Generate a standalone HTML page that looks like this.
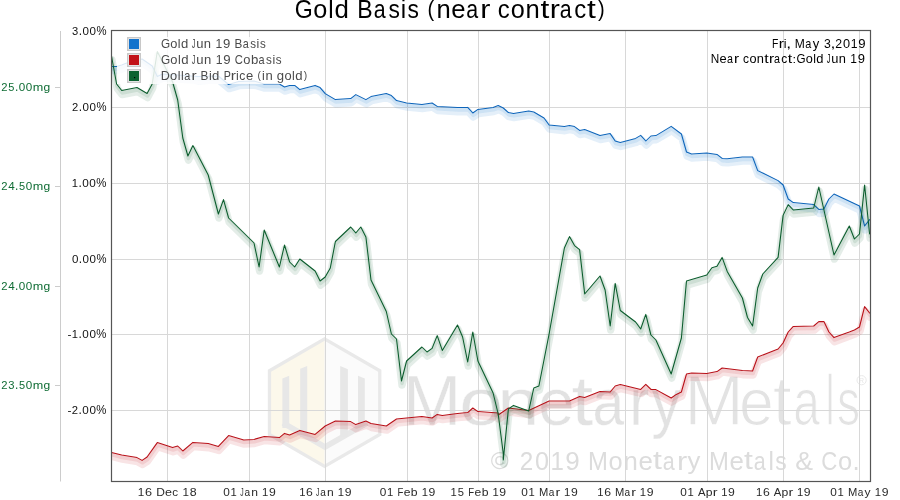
<!DOCTYPE html>
<html><head><meta charset="utf-8"><style>
html,body{margin:0;padding:0;background:#fff;width:900px;height:500px;overflow:hidden}
svg{display:block;will-change:transform}
text{font-family:"Liberation Sans", sans-serif}
</style></head><body>
<svg width="900" height="500" viewBox="0 0 900 500">

<polygon points="324.6,337.0 381.4,369.8 381.4,435.4 324.6,468.2 267.8,435.4 267.8,369.8" fill="#e9e9e9"/>
<polygon points="324.6,340.8 324.6,464.4 271.1,433.5 271.1,371.7" fill="#fcf8eb"/>
<polygon points="324.6,340.8 378.1,371.7 378.1,433.5 324.6,464.4" fill="#fbfbfb"/>
<polyline points="283,423 325,447 367,423" fill="none" stroke="#e8e8e8" stroke-width="5.5" stroke-linejoin="miter"/>
<polygon points="282.4,378.6 289.2,375.8 289.2,428 282.4,428" fill="#e7e7e7"/>
<polygon points="300.2,368.8 307.2,366.0 307.2,437 300.2,437" fill="#e7e7e7"/>
<polygon points="340.2,366.0 347.9,369.2 347.9,437 340.2,437" fill="#e7e7e7"/>
<polygon points="358.0,375.8 364.8,378.6 364.8,428 358.0,428" fill="#e7e7e7"/>
<g fill="#e2e2e2" stroke="#ffffff" stroke-width="0.4"><text transform="translate(402.74,425.00) scale(1.004,1.013)" font-size="70">M</text><text transform="translate(459.21,425.00) scale(1.119,0.942)" font-size="70">o</text><text transform="translate(497.17,425.00) scale(1.083,0.942)" font-size="70">n</text><text transform="translate(538.33,425.00) scale(0.932,0.942)" font-size="70">e</text><text transform="translate(571.61,425.00) scale(1.119,0.994)" font-size="70">t</text><text transform="translate(592.59,425.00) scale(0.812,0.942)" font-size="70">a</text><text transform="translate(629.32,425.00) scale(0.857,0.942)" font-size="70">r</text><text transform="translate(651.56,425.00) scale(0.845,0.960)" font-size="70">y</text></g>
<g fill="#e3e3e3" stroke="#ffffff" stroke-width="1.3"><text transform="translate(683.98,425.00) scale(1.031,1.013)" font-size="70">M</text><text transform="translate(739.04,425.00) scale(0.895,0.942)" font-size="70">e</text><text transform="translate(772.86,425.00) scale(0.979,0.994)" font-size="70">t</text><text transform="translate(793.17,425.00) scale(0.684,0.942)" font-size="70">a</text><text transform="translate(825.44,425.00) scale(0.585,1.025)" font-size="70">l</text><text transform="translate(836.92,425.00) scale(0.659,0.945)" font-size="70">s</text></g>
<circle cx="861.6" cy="380.2" r="4.6" fill="none" stroke="#e6e6e6" stroke-width="0.9"/>
<text x="861.6" y="383" font-size="7" fill="#e6e6e6" text-anchor="middle">R</text>
<g fill="#dcdcdc" ><text transform="translate(490.63,469.41) scale(1.022,1.027)" font-size="24.00">©</text><text transform="translate(519.76,469.60) scale(1.013,1.063)" font-size="24.00">2</text><text transform="translate(535.04,469.69) scale(1.051,1.068)" font-size="24.00">0</text><text transform="translate(550.47,469.60) scale(1.004,1.060)" font-size="24.00">1</text><text transform="translate(565.18,469.69) scale(1.085,1.068)" font-size="24.00">9</text><text transform="translate(588.12,469.60) scale(0.994,1.060)" font-size="24.00">M</text><text transform="translate(608.62,469.69) scale(1.060,1.048)" font-size="24.00">o</text><text transform="translate(623.47,469.60) scale(1.075,1.041)" font-size="24.00">n</text><text transform="translate(638.39,469.69) scale(1.077,1.048)" font-size="24.00">e</text><text transform="translate(653.05,469.40) scale(1.332,1.073)" font-size="24.00">t</text><text transform="translate(662.80,469.69) scale(0.897,1.048)" font-size="24.00">a</text><text transform="translate(677.07,469.60) scale(1.277,1.041)" font-size="24.00">r</text><text transform="translate(687.42,469.48) scale(1.071,1.026)" font-size="24.00">y</text><text transform="translate(708.93,469.60) scale(0.994,1.060)" font-size="24.00">M</text><text transform="translate(729.41,469.69) scale(1.077,1.048)" font-size="24.00">e</text><text transform="translate(744.06,469.40) scale(1.332,1.073)" font-size="24.00">t</text><text transform="translate(753.81,469.69) scale(0.897,1.048)" font-size="24.00">a</text><text transform="translate(768.55,469.60) scale(1.019,1.049)" font-size="24.00">l</text><text transform="translate(775.25,469.69) scale(0.956,1.051)" font-size="24.00">s</text><text transform="translate(795.24,469.69) scale(1.110,1.078)" font-size="24.00">&amp;</text><text transform="translate(821.15,469.69) scale(0.925,1.068)" font-size="24.00">C</text><text transform="translate(837.89,469.69) scale(1.060,1.048)" font-size="24.00">o</text><text transform="translate(852.47,469.60) scale(1.079,1.160)" font-size="24.00">.</text></g>
<line x1="167.5" y1="30" x2="167.5" y2="481" stroke="#d8d8d8" stroke-width="1"/>
<line x1="249.5" y1="30" x2="249.5" y2="481" stroke="#d8d8d8" stroke-width="1"/>
<line x1="325.5" y1="30" x2="325.5" y2="481" stroke="#d8d8d8" stroke-width="1"/>
<line x1="407.5" y1="30" x2="407.5" y2="481" stroke="#d8d8d8" stroke-width="1"/>
<line x1="478.5" y1="30" x2="478.5" y2="481" stroke="#d8d8d8" stroke-width="1"/>
<line x1="549.5" y1="30" x2="549.5" y2="481" stroke="#d8d8d8" stroke-width="1"/>
<line x1="625.5" y1="30" x2="625.5" y2="481" stroke="#d8d8d8" stroke-width="1"/>
<line x1="707.5" y1="30" x2="707.5" y2="481" stroke="#d8d8d8" stroke-width="1"/>
<line x1="783.5" y1="30" x2="783.5" y2="481" stroke="#d8d8d8" stroke-width="1"/>
<line x1="859.5" y1="30" x2="859.5" y2="481" stroke="#d8d8d8" stroke-width="1"/>
<line x1="111" y1="107.5" x2="870" y2="107.5" stroke="#d8d8d8" stroke-width="1"/>
<line x1="111" y1="183.5" x2="870" y2="183.5" stroke="#d8d8d8" stroke-width="1"/>
<line x1="111" y1="259.5" x2="870" y2="259.5" stroke="#d8d8d8" stroke-width="1"/>
<line x1="111" y1="334.5" x2="870" y2="334.5" stroke="#d8d8d8" stroke-width="1"/>
<line x1="111" y1="410.5" x2="870" y2="410.5" stroke="#d8d8d8" stroke-width="1"/>
<defs><clipPath id="pc"><rect x="111" y="30" width="760" height="451"/></clipPath></defs>
<g clip-path="url(#pc)">
<polyline points="111.5,66.5 116.6,66.5 121.7,65.0 126.8,63.0 142.1,59.0 152.2,66.0 157.3,76.5 162.4,74.0 198.0,76.5 218.4,76.0 228.6,84.5 238.7,81.5 254.0,81.0 264.2,84.0 279.4,84.0 284.5,87.0 289.6,85.4 294.7,85.4 299.8,89.6 315.1,85.4 320.1,87.6 325.2,93.6 335.4,99.6 350.7,98.6 355.8,94.6 365.9,99.6 371.0,96.6 386.3,93.6 391.4,95.6 396.5,100.6 406.6,103.0 421.9,104.4 432.1,103.0 437.2,106.4 457.5,107.6 467.7,107.4 472.8,113.0 477.9,109.4 493.1,107.4 498.2,105.6 503.3,108.0 508.4,112.6 513.5,113.4 528.7,111.0 533.8,112.0 544.0,118.0 549.1,125.0 564.4,126.6 569.5,125.6 574.5,126.6 579.6,130.4 584.7,129.6 600.0,135.4 610.2,133.6 615.2,141.0 620.3,142.4 635.6,138.4 640.7,135.4 645.8,141.0 650.9,136.0 655.9,135.6 671.2,126.4 681.4,134.0 686.5,152.0 691.6,154.0 706.8,153.0 717.0,154.4 722.1,158.4 727.2,158.8 742.4,157.0 752.6,157.0 757.7,170.6 778.1,180.6 783.1,185.0 788.2,199.0 793.3,202.6 813.7,204.6 818.8,209.4 823.9,209.0 828.9,199.0 834.0,194.0 859.5,206.0 864.6,226.0 869.6,219.6" transform="translate(0.5,4.1)" fill="none" stroke="#1473cc" stroke-width="7.4" stroke-opacity="0.115" stroke-linejoin="round" stroke-linecap="round"/>
<polyline points="111.5,66.5 116.6,66.5 121.7,65.0 126.8,63.0 142.1,59.0 152.2,66.0 157.3,76.5 162.4,74.0 198.0,76.5 218.4,76.0 228.6,84.5 238.7,81.5 254.0,81.0 264.2,84.0 279.4,84.0 284.5,87.0 289.6,85.4 294.7,85.4 299.8,89.6 315.1,85.4 320.1,87.6 325.2,93.6 335.4,99.6 350.7,98.6 355.8,94.6 365.9,99.6 371.0,96.6 386.3,93.6 391.4,95.6 396.5,100.6 406.6,103.0 421.9,104.4 432.1,103.0 437.2,106.4 457.5,107.6 467.7,107.4 472.8,113.0 477.9,109.4 493.1,107.4 498.2,105.6 503.3,108.0 508.4,112.6 513.5,113.4 528.7,111.0 533.8,112.0 544.0,118.0 549.1,125.0 564.4,126.6 569.5,125.6 574.5,126.6 579.6,130.4 584.7,129.6 600.0,135.4 610.2,133.6 615.2,141.0 620.3,142.4 635.6,138.4 640.7,135.4 645.8,141.0 650.9,136.0 655.9,135.6 671.2,126.4 681.4,134.0 686.5,152.0 691.6,154.0 706.8,153.0 717.0,154.4 722.1,158.4 727.2,158.8 742.4,157.0 752.6,157.0 757.7,170.6 778.1,180.6 783.1,185.0 788.2,199.0 793.3,202.6 813.7,204.6 818.8,209.4 823.9,209.0 828.9,199.0 834.0,194.0 859.5,206.0 864.6,226.0 869.6,219.6" transform="translate(0.5,2.4)" fill="none" stroke="#1473cc" stroke-width="3.6" stroke-opacity="0.11" stroke-linejoin="round" stroke-linecap="round"/>
<polyline points="111.5,66.5 116.6,66.5 121.7,65.0 126.8,63.0 142.1,59.0 152.2,66.0 157.3,76.5 162.4,74.0 198.0,76.5 218.4,76.0 228.6,84.5 238.7,81.5 254.0,81.0 264.2,84.0 279.4,84.0 284.5,87.0 289.6,85.4 294.7,85.4 299.8,89.6 315.1,85.4 320.1,87.6 325.2,93.6 335.4,99.6 350.7,98.6 355.8,94.6 365.9,99.6 371.0,96.6 386.3,93.6 391.4,95.6 396.5,100.6 406.6,103.0 421.9,104.4 432.1,103.0 437.2,106.4 457.5,107.6 467.7,107.4 472.8,113.0 477.9,109.4 493.1,107.4 498.2,105.6 503.3,108.0 508.4,112.6 513.5,113.4 528.7,111.0 533.8,112.0 544.0,118.0 549.1,125.0 564.4,126.6 569.5,125.6 574.5,126.6 579.6,130.4 584.7,129.6 600.0,135.4 610.2,133.6 615.2,141.0 620.3,142.4 635.6,138.4 640.7,135.4 645.8,141.0 650.9,136.0 655.9,135.6 671.2,126.4 681.4,134.0 686.5,152.0 691.6,154.0 706.8,153.0 717.0,154.4 722.1,158.4 727.2,158.8 742.4,157.0 752.6,157.0 757.7,170.6 778.1,180.6 783.1,185.0 788.2,199.0 793.3,202.6 813.7,204.6 818.8,209.4 823.9,209.0 828.9,199.0 834.0,194.0 859.5,206.0 864.6,226.0 869.6,219.6" fill="none" stroke="#0c64ba" stroke-width="1.05" stroke-linejoin="round" stroke-linecap="round"/>
<polyline points="111.5,452.4 121.7,455.0 137.0,457.6 142.1,460.4 147.1,457.0 157.3,442.6 172.6,447.6 177.7,446.0 182.8,451.0 192.9,442.4 208.2,443.6 218.4,446.4 228.6,435.6 243.8,440.0 254.0,439.4 264.2,436.4 279.4,437.6 284.5,433.4 289.6,435.0 299.8,430.4 315.1,434.4 325.2,426.0 335.4,421.0 350.7,421.6 355.8,424.6 365.9,421.0 371.0,423.4 386.3,426.0 396.5,419.0 406.6,418.0 421.9,416.4 432.1,418.0 437.2,414.4 442.3,415.4 457.5,413.6 467.7,412.6 472.8,408.0 477.9,411.6 498.2,413.0 498.2,415.0 508.4,408.0 528.7,410.6 549.1,401.0 569.5,401.0 579.6,396.4 584.7,397.4 600.0,391.4 610.2,392.0 615.2,386.0 620.3,384.6 640.7,389.4 645.8,384.4 650.9,389.4 655.9,389.6 671.2,398.0 676.3,394.4 681.4,392.0 686.5,374.0 691.6,373.0 706.8,373.4 717.0,371.6 722.1,368.0 742.4,370.6 752.6,371.0 757.7,357.0 778.1,349.0 783.1,343.0 788.2,332.0 793.3,326.4 813.7,326.0 818.8,321.6 823.9,321.6 828.9,332.0 834.0,337.6 849.3,332.0 854.4,330.0 859.5,327.0 864.6,306.6 869.6,313.0" transform="translate(0.5,4.1)" fill="none" stroke="#c21218" stroke-width="7.4" stroke-opacity="0.115" stroke-linejoin="round" stroke-linecap="round"/>
<polyline points="111.5,452.4 121.7,455.0 137.0,457.6 142.1,460.4 147.1,457.0 157.3,442.6 172.6,447.6 177.7,446.0 182.8,451.0 192.9,442.4 208.2,443.6 218.4,446.4 228.6,435.6 243.8,440.0 254.0,439.4 264.2,436.4 279.4,437.6 284.5,433.4 289.6,435.0 299.8,430.4 315.1,434.4 325.2,426.0 335.4,421.0 350.7,421.6 355.8,424.6 365.9,421.0 371.0,423.4 386.3,426.0 396.5,419.0 406.6,418.0 421.9,416.4 432.1,418.0 437.2,414.4 442.3,415.4 457.5,413.6 467.7,412.6 472.8,408.0 477.9,411.6 498.2,413.0 498.2,415.0 508.4,408.0 528.7,410.6 549.1,401.0 569.5,401.0 579.6,396.4 584.7,397.4 600.0,391.4 610.2,392.0 615.2,386.0 620.3,384.6 640.7,389.4 645.8,384.4 650.9,389.4 655.9,389.6 671.2,398.0 676.3,394.4 681.4,392.0 686.5,374.0 691.6,373.0 706.8,373.4 717.0,371.6 722.1,368.0 742.4,370.6 752.6,371.0 757.7,357.0 778.1,349.0 783.1,343.0 788.2,332.0 793.3,326.4 813.7,326.0 818.8,321.6 823.9,321.6 828.9,332.0 834.0,337.6 849.3,332.0 854.4,330.0 859.5,327.0 864.6,306.6 869.6,313.0" transform="translate(0.5,2.4)" fill="none" stroke="#c21218" stroke-width="3.6" stroke-opacity="0.11" stroke-linejoin="round" stroke-linecap="round"/>
<polyline points="111.5,452.4 121.7,455.0 137.0,457.6 142.1,460.4 147.1,457.0 157.3,442.6 172.6,447.6 177.7,446.0 182.8,451.0 192.9,442.4 208.2,443.6 218.4,446.4 228.6,435.6 243.8,440.0 254.0,439.4 264.2,436.4 279.4,437.6 284.5,433.4 289.6,435.0 299.8,430.4 315.1,434.4 325.2,426.0 335.4,421.0 350.7,421.6 355.8,424.6 365.9,421.0 371.0,423.4 386.3,426.0 396.5,419.0 406.6,418.0 421.9,416.4 432.1,418.0 437.2,414.4 442.3,415.4 457.5,413.6 467.7,412.6 472.8,408.0 477.9,411.6 498.2,413.0 498.2,415.0 508.4,408.0 528.7,410.6 549.1,401.0 569.5,401.0 579.6,396.4 584.7,397.4 600.0,391.4 610.2,392.0 615.2,386.0 620.3,384.6 640.7,389.4 645.8,384.4 650.9,389.4 655.9,389.6 671.2,398.0 676.3,394.4 681.4,392.0 686.5,374.0 691.6,373.0 706.8,373.4 717.0,371.6 722.1,368.0 742.4,370.6 752.6,371.0 757.7,357.0 778.1,349.0 783.1,343.0 788.2,332.0 793.3,326.4 813.7,326.0 818.8,321.6 823.9,321.6 828.9,332.0 834.0,337.6 849.3,332.0 854.4,330.0 859.5,327.0 864.6,306.6 869.6,313.0" fill="none" stroke="#b80f17" stroke-width="1.05" stroke-linejoin="round" stroke-linecap="round"/>
<polyline points="111.5,56.0 116.6,84.0 121.7,90.5 137.0,87.5 147.1,93.5 152.2,84.0 157.3,51.5 172.6,82.0 177.7,100.0 182.8,138.0 187.9,156.0 192.9,145.6 208.2,175.0 218.4,214.0 223.5,199.6 228.6,218.0 254.0,243.0 259.1,267.0 264.2,230.0 279.4,267.0 284.5,245.0 289.6,262.0 294.7,267.0 299.8,259.0 315.1,271.0 320.1,281.0 325.2,277.0 330.3,268.0 335.4,241.5 350.7,227.0 355.8,233.0 360.8,227.0 365.9,237.0 371.0,280.0 386.3,311.5 391.4,334.0 396.5,339.0 401.5,381.0 406.6,361.0 421.9,347.0 427.0,352.0 432.1,348.4 437.2,335.6 442.3,350.4 457.5,325.0 462.6,337.0 467.7,362.0 472.8,332.0 477.9,361.0 493.1,393.0 498.2,414.0 503.3,453.8 503.3,460.0 508.4,409.0 513.5,405.4 528.7,411.0 533.8,388.0 538.9,386.0 549.1,334.0 564.4,248.0 569.5,236.6 574.5,245.6 579.6,249.6 584.7,294.0 600.0,276.0 605.1,290.0 610.2,326.0 615.2,283.4 620.3,310.5 635.6,322.0 640.7,329.0 645.8,314.4 650.9,335.0 655.9,340.0 671.2,374.0 681.4,338.0 686.5,281.0 706.8,275.0 711.9,267.7 717.0,266.3 722.1,257.4 727.2,271.4 742.4,298.0 747.5,317.5 752.6,326.0 757.7,288.0 762.8,274.0 778.1,257.4 783.1,215.4 788.2,204.6 793.3,210.0 813.7,208.0 818.8,187.0 834.0,255.0 849.3,226.0 854.4,239.0 859.5,234.0 864.6,185.0 869.6,234.0" transform="translate(0.5,4.1)" fill="none" stroke="#0e6332" stroke-width="7.4" stroke-opacity="0.115" stroke-linejoin="round" stroke-linecap="round"/>
<polyline points="111.5,56.0 116.6,84.0 121.7,90.5 137.0,87.5 147.1,93.5 152.2,84.0 157.3,51.5 172.6,82.0 177.7,100.0 182.8,138.0 187.9,156.0 192.9,145.6 208.2,175.0 218.4,214.0 223.5,199.6 228.6,218.0 254.0,243.0 259.1,267.0 264.2,230.0 279.4,267.0 284.5,245.0 289.6,262.0 294.7,267.0 299.8,259.0 315.1,271.0 320.1,281.0 325.2,277.0 330.3,268.0 335.4,241.5 350.7,227.0 355.8,233.0 360.8,227.0 365.9,237.0 371.0,280.0 386.3,311.5 391.4,334.0 396.5,339.0 401.5,381.0 406.6,361.0 421.9,347.0 427.0,352.0 432.1,348.4 437.2,335.6 442.3,350.4 457.5,325.0 462.6,337.0 467.7,362.0 472.8,332.0 477.9,361.0 493.1,393.0 498.2,414.0 503.3,453.8 503.3,460.0 508.4,409.0 513.5,405.4 528.7,411.0 533.8,388.0 538.9,386.0 549.1,334.0 564.4,248.0 569.5,236.6 574.5,245.6 579.6,249.6 584.7,294.0 600.0,276.0 605.1,290.0 610.2,326.0 615.2,283.4 620.3,310.5 635.6,322.0 640.7,329.0 645.8,314.4 650.9,335.0 655.9,340.0 671.2,374.0 681.4,338.0 686.5,281.0 706.8,275.0 711.9,267.7 717.0,266.3 722.1,257.4 727.2,271.4 742.4,298.0 747.5,317.5 752.6,326.0 757.7,288.0 762.8,274.0 778.1,257.4 783.1,215.4 788.2,204.6 793.3,210.0 813.7,208.0 818.8,187.0 834.0,255.0 849.3,226.0 854.4,239.0 859.5,234.0 864.6,185.0 869.6,234.0" transform="translate(0.5,2.4)" fill="none" stroke="#0e6332" stroke-width="3.6" stroke-opacity="0.11" stroke-linejoin="round" stroke-linecap="round"/>
<polyline points="111.5,56.0 116.6,84.0 121.7,90.5 137.0,87.5 147.1,93.5 152.2,84.0 157.3,51.5 172.6,82.0 177.7,100.0 182.8,138.0 187.9,156.0 192.9,145.6 208.2,175.0 218.4,214.0 223.5,199.6 228.6,218.0 254.0,243.0 259.1,267.0 264.2,230.0 279.4,267.0 284.5,245.0 289.6,262.0 294.7,267.0 299.8,259.0 315.1,271.0 320.1,281.0 325.2,277.0 330.3,268.0 335.4,241.5 350.7,227.0 355.8,233.0 360.8,227.0 365.9,237.0 371.0,280.0 386.3,311.5 391.4,334.0 396.5,339.0 401.5,381.0 406.6,361.0 421.9,347.0 427.0,352.0 432.1,348.4 437.2,335.6 442.3,350.4 457.5,325.0 462.6,337.0 467.7,362.0 472.8,332.0 477.9,361.0 493.1,393.0 498.2,414.0 503.3,453.8 503.3,460.0 508.4,409.0 513.5,405.4 528.7,411.0 533.8,388.0 538.9,386.0 549.1,334.0 564.4,248.0 569.5,236.6 574.5,245.6 579.6,249.6 584.7,294.0 600.0,276.0 605.1,290.0 610.2,326.0 615.2,283.4 620.3,310.5 635.6,322.0 640.7,329.0 645.8,314.4 650.9,335.0 655.9,340.0 671.2,374.0 681.4,338.0 686.5,281.0 706.8,275.0 711.9,267.7 717.0,266.3 722.1,257.4 727.2,271.4 742.4,298.0 747.5,317.5 752.6,326.0 757.7,288.0 762.8,274.0 778.1,257.4 783.1,215.4 788.2,204.6 793.3,210.0 813.7,208.0 818.8,187.0 834.0,255.0 849.3,226.0 854.4,239.0 859.5,234.0 864.6,185.0 869.6,234.0" fill="none" stroke="#0a5c2c" stroke-width="1.05" stroke-linejoin="round" stroke-linecap="round"/>
</g>
<rect x="117" y="37" width="200" height="47" fill="#ffffff" fill-opacity="0.85"/>
<rect x="127.75" y="37.75" width="12.5" height="12.5" fill="#fff" stroke="#c8c8c8" stroke-width="1.5"/>
<rect x="129" y="39" width="10" height="10" fill="#1473cc"/>
<g fill="#4a4a4a" ><text transform="translate(160.91,47.74) scale(0.981,1.068)" font-size="12.00">G</text><text transform="translate(170.30,47.75) scale(1.069,1.048)" font-size="12.00">o</text><text transform="translate(177.86,47.70) scale(1.028,1.049)" font-size="12.00">l</text><text transform="translate(181.02,47.75) scale(1.093,1.054)" font-size="12.00">d</text><text transform="translate(191.67,47.70) scale(0.609,1.060)" font-size="12.00">J</text><text transform="translate(196.14,47.74) scale(1.084,1.067)" font-size="12.00">u</text><text transform="translate(203.84,47.70) scale(1.084,1.041)" font-size="12.00">n</text><text transform="translate(215.50,47.70) scale(1.012,1.060)" font-size="12.00">1</text><text transform="translate(222.92,47.74) scale(1.095,1.068)" font-size="12.00">9</text><text transform="translate(234.51,47.70) scale(0.977,1.060)" font-size="12.00">B</text><text transform="translate(242.83,47.75) scale(0.904,1.048)" font-size="12.00">a</text><text transform="translate(250.29,47.75) scale(0.964,1.051)" font-size="12.00">s</text><text transform="translate(256.56,47.70) scale(1.028,1.049)" font-size="12.00">i</text><text transform="translate(259.93,47.75) scale(0.964,1.051)" font-size="12.00">s</text></g>
<rect x="127.75" y="53.75" width="12.5" height="12.5" fill="#fff" stroke="#c8c8c8" stroke-width="1.5"/>
<rect x="129" y="55" width="10" height="10" fill="#c21218"/>
<g fill="#4a4a4a" ><text transform="translate(160.90,63.64) scale(0.987,1.068)" font-size="12.00">G</text><text transform="translate(170.35,63.65) scale(1.075,1.048)" font-size="12.00">o</text><text transform="translate(177.96,63.60) scale(1.034,1.049)" font-size="12.00">l</text><text transform="translate(181.14,63.65) scale(1.099,1.054)" font-size="12.00">d</text><text transform="translate(191.85,63.60) scale(0.613,1.060)" font-size="12.00">J</text><text transform="translate(196.35,63.64) scale(1.091,1.067)" font-size="12.00">u</text><text transform="translate(204.10,63.60) scale(1.091,1.041)" font-size="12.00">n</text><text transform="translate(215.82,63.60) scale(1.019,1.060)" font-size="12.00">1</text><text transform="translate(223.29,63.64) scale(1.101,1.068)" font-size="12.00">9</text><text transform="translate(234.83,63.64) scale(0.939,1.068)" font-size="12.00">C</text><text transform="translate(243.33,63.65) scale(1.075,1.048)" font-size="12.00">o</text><text transform="translate(250.88,63.65) scale(1.101,1.054)" font-size="12.00">b</text><text transform="translate(258.60,63.65) scale(0.910,1.048)" font-size="12.00">a</text><text transform="translate(266.10,63.65) scale(0.970,1.051)" font-size="12.00">s</text><text transform="translate(272.41,63.60) scale(1.034,1.049)" font-size="12.00">i</text><text transform="translate(275.80,63.65) scale(0.970,1.051)" font-size="12.00">s</text></g>
<rect x="127.75" y="69.75" width="12.5" height="12.5" fill="#fff" stroke="#c8c8c8" stroke-width="1.5"/>
<rect x="129" y="71" width="10" height="10" fill="#0e6332"/>
<g fill="#4a4a4a" ><text transform="translate(160.77,79.60) scale(1.044,1.060)" font-size="12.00">D</text><text transform="translate(170.06,79.65) scale(1.072,1.048)" font-size="12.00">o</text><text transform="translate(177.64,79.60) scale(1.031,1.049)" font-size="12.00">l</text><text transform="translate(181.01,79.60) scale(1.031,1.049)" font-size="12.00">l</text><text transform="translate(184.33,79.65) scale(0.907,1.048)" font-size="12.00">a</text><text transform="translate(191.55,79.60) scale(1.292,1.041)" font-size="12.00">r</text><text transform="translate(200.53,79.60) scale(0.980,1.060)" font-size="12.00">B</text><text transform="translate(208.92,79.60) scale(1.031,1.049)" font-size="12.00">i</text><text transform="translate(212.08,79.65) scale(1.096,1.054)" font-size="12.00">d</text><text transform="translate(223.81,79.60) scale(0.892,1.060)" font-size="12.00">P</text><text transform="translate(230.87,79.60) scale(1.292,1.041)" font-size="12.00">r</text><text transform="translate(236.09,79.60) scale(1.031,1.049)" font-size="12.00">i</text><text transform="translate(239.29,79.65) scale(1.012,1.048)" font-size="12.00">c</text><text transform="translate(245.90,79.65) scale(1.089,1.048)" font-size="12.00">e</text><text transform="translate(257.49,78.81) scale(0.853,0.956)" font-size="12.00">(</text><text transform="translate(262.12,79.60) scale(1.031,1.049)" font-size="12.00">i</text><text transform="translate(265.40,79.60) scale(1.087,1.041)" font-size="12.00">n</text><text transform="translate(276.80,79.53) scale(1.096,1.032)" font-size="12.00">g</text><text transform="translate(284.50,79.65) scale(1.072,1.048)" font-size="12.00">o</text><text transform="translate(292.08,79.60) scale(1.031,1.049)" font-size="12.00">l</text><text transform="translate(295.25,79.65) scale(1.096,1.054)" font-size="12.00">d</text><text transform="translate(303.73,78.81) scale(0.853,0.956)" font-size="12.00">)</text></g>
<rect x="134" y="77" width="1.2" height="1.2" fill="#000"/>
<rect x="111.5" y="30.5" width="759" height="451" fill="none" stroke="#555555" stroke-width="1.2"/>
<line x1="60.5" y1="31" x2="60.5" y2="481.5" stroke="#cccccc" stroke-width="1"/>
<line x1="55" y1="87.5" x2="60" y2="87.5" stroke="#cccccc" stroke-width="1"/>
<line x1="55" y1="186.5" x2="60" y2="186.5" stroke="#cccccc" stroke-width="1"/>
<line x1="55" y1="286.5" x2="60" y2="286.5" stroke="#cccccc" stroke-width="1"/>
<line x1="55" y1="385.5" x2="60" y2="385.5" stroke="#cccccc" stroke-width="1"/>
<g fill="#0f6c34" ><text transform="translate(1.13,91.30) scale(1.023,1.063)" font-size="11.00">2</text><text transform="translate(8.35,91.34) scale(1.001,1.065)" font-size="11.00">5</text><text transform="translate(15.07,91.30) scale(1.089,1.160)" font-size="11.00">.</text><text transform="translate(18.77,91.34) scale(1.061,1.068)" font-size="11.00">0</text><text transform="translate(25.82,91.34) scale(1.061,1.068)" font-size="11.00">0</text><text transform="translate(32.76,91.30) scale(1.147,1.041)" font-size="11.00">m</text><text transform="translate(43.48,91.23) scale(1.094,1.032)" font-size="11.00">g</text></g>
<g fill="#0f6c34" ><text transform="translate(1.13,190.30) scale(1.023,1.063)" font-size="11.00">2</text><text transform="translate(8.21,190.30) scale(1.061,1.060)" font-size="11.00">4</text><text transform="translate(15.07,190.30) scale(1.089,1.160)" font-size="11.00">.</text><text transform="translate(18.91,190.34) scale(1.001,1.065)" font-size="11.00">5</text><text transform="translate(25.82,190.34) scale(1.061,1.068)" font-size="11.00">0</text><text transform="translate(32.76,190.30) scale(1.147,1.041)" font-size="11.00">m</text><text transform="translate(43.48,190.23) scale(1.094,1.032)" font-size="11.00">g</text></g>
<g fill="#0f6c34" ><text transform="translate(1.13,290.00) scale(1.023,1.063)" font-size="11.00">2</text><text transform="translate(8.21,290.00) scale(1.061,1.060)" font-size="11.00">4</text><text transform="translate(15.07,290.00) scale(1.089,1.160)" font-size="11.00">.</text><text transform="translate(18.77,290.04) scale(1.061,1.068)" font-size="11.00">0</text><text transform="translate(25.82,290.04) scale(1.061,1.068)" font-size="11.00">0</text><text transform="translate(32.76,290.00) scale(1.147,1.041)" font-size="11.00">m</text><text transform="translate(43.48,289.93) scale(1.094,1.032)" font-size="11.00">g</text></g>
<g fill="#0f6c34" ><text transform="translate(1.13,389.30) scale(1.023,1.063)" font-size="11.00">2</text><text transform="translate(8.35,389.34) scale(1.019,1.068)" font-size="11.00">3</text><text transform="translate(15.07,389.30) scale(1.089,1.160)" font-size="11.00">.</text><text transform="translate(18.91,389.34) scale(1.001,1.065)" font-size="11.00">5</text><text transform="translate(25.82,389.34) scale(1.061,1.068)" font-size="11.00">0</text><text transform="translate(32.76,389.30) scale(1.147,1.041)" font-size="11.00">m</text><text transform="translate(43.48,389.23) scale(1.094,1.032)" font-size="11.00">g</text></g>
<g fill="#111111" ><text transform="translate(72.07,35.04) scale(1.015,1.068)" font-size="11.00">3</text><text transform="translate(78.77,35.00) scale(1.085,1.160)" font-size="11.00">.</text><text transform="translate(82.46,35.04) scale(1.057,1.068)" font-size="11.00">0</text><text transform="translate(89.48,35.04) scale(1.057,1.068)" font-size="11.00">0</text><text transform="translate(96.43,35.09) scale(1.030,1.081)" font-size="11.00">%</text></g>
<g fill="#111111" ><text transform="translate(71.94,111.00) scale(1.018,1.063)" font-size="11.00">2</text><text transform="translate(78.80,111.00) scale(1.084,1.160)" font-size="11.00">.</text><text transform="translate(82.48,111.04) scale(1.056,1.068)" font-size="11.00">0</text><text transform="translate(89.49,111.04) scale(1.056,1.068)" font-size="11.00">0</text><text transform="translate(96.44,111.09) scale(1.029,1.081)" font-size="11.00">%</text></g>
<g fill="#111111" ><text transform="translate(71.64,187.00) scale(1.021,1.060)" font-size="11.00">1</text><text transform="translate(78.46,187.00) scale(1.097,1.160)" font-size="11.00">.</text><text transform="translate(82.19,187.04) scale(1.069,1.068)" font-size="11.00">0</text><text transform="translate(89.29,187.04) scale(1.069,1.068)" font-size="11.00">0</text><text transform="translate(96.32,187.09) scale(1.041,1.081)" font-size="11.00">%</text></g>
<g fill="#111111" ><text transform="translate(72.05,263.04) scale(1.054,1.068)" font-size="11.00">0</text><text transform="translate(78.86,263.00) scale(1.082,1.160)" font-size="11.00">.</text><text transform="translate(82.54,263.04) scale(1.054,1.068)" font-size="11.00">0</text><text transform="translate(89.53,263.04) scale(1.054,1.068)" font-size="11.00">0</text><text transform="translate(96.46,263.09) scale(1.026,1.081)" font-size="11.00">%</text></g>
<g fill="#111111" ><text transform="translate(67.47,337.98) scale(1.087,1.025)" font-size="11.00">-</text><text transform="translate(71.83,338.00) scale(1.016,1.060)" font-size="11.00">1</text><text transform="translate(78.61,338.00) scale(1.092,1.160)" font-size="11.00">.</text><text transform="translate(82.32,338.04) scale(1.063,1.068)" font-size="11.00">0</text><text transform="translate(89.38,338.04) scale(1.063,1.068)" font-size="11.00">0</text><text transform="translate(96.37,338.09) scale(1.036,1.081)" font-size="11.00">%</text></g>
<g fill="#111111" ><text transform="translate(67.47,413.98) scale(1.087,1.025)" font-size="11.00">-</text><text transform="translate(71.71,414.00) scale(1.025,1.063)" font-size="11.00">2</text><text transform="translate(78.61,414.00) scale(1.092,1.160)" font-size="11.00">.</text><text transform="translate(82.32,414.04) scale(1.063,1.068)" font-size="11.00">0</text><text transform="translate(89.38,414.04) scale(1.063,1.068)" font-size="11.00">0</text><text transform="translate(96.37,414.09) scale(1.036,1.081)" font-size="11.00">%</text></g>
<g fill="#2a2a2a" ><text transform="translate(137.86,495.90) scale(1.065,1.060)" font-size="11.00">1</text><text transform="translate(145.04,495.94) scale(1.154,1.068)" font-size="11.00">6</text><text transform="translate(156.13,495.90) scale(1.094,1.060)" font-size="11.00">D</text><text transform="translate(165.04,495.94) scale(1.143,1.048)" font-size="11.00">e</text><text transform="translate(172.24,495.94) scale(1.061,1.048)" font-size="11.00">c</text><text transform="translate(182.58,495.90) scale(1.065,1.060)" font-size="11.00">1</text><text transform="translate(189.84,495.94) scale(1.127,1.068)" font-size="11.00">8</text></g>
<g fill="#2a2a2a" ><text transform="translate(223.24,496.04) scale(1.076,1.068)" font-size="11.00">0</text><text transform="translate(230.48,496.00) scale(1.028,1.060)" font-size="11.00">1</text><text transform="translate(240.13,496.00) scale(0.619,1.060)" font-size="11.00">J</text><text transform="translate(244.38,496.04) scale(0.918,1.048)" font-size="11.00">a</text><text transform="translate(251.23,496.00) scale(1.101,1.041)" font-size="11.00">n</text><text transform="translate(262.07,496.00) scale(1.028,1.060)" font-size="11.00">1</text><text transform="translate(268.98,496.04) scale(1.112,1.068)" font-size="11.00">9</text></g>
<g fill="#2a2a2a" ><text transform="translate(299.16,496.00) scale(1.027,1.060)" font-size="11.00">1</text><text transform="translate(306.09,496.04) scale(1.113,1.068)" font-size="11.00">6</text><text transform="translate(315.94,496.00) scale(0.618,1.060)" font-size="11.00">J</text><text transform="translate(320.18,496.04) scale(0.917,1.048)" font-size="11.00">a</text><text transform="translate(327.03,496.00) scale(1.100,1.041)" font-size="11.00">n</text><text transform="translate(337.86,496.00) scale(1.027,1.060)" font-size="11.00">1</text><text transform="translate(344.77,496.04) scale(1.111,1.068)" font-size="11.00">9</text></g>
<g fill="#2a2a2a" ><text transform="translate(379.72,496.04) scale(1.075,1.068)" font-size="11.00">0</text><text transform="translate(386.95,496.00) scale(1.027,1.060)" font-size="11.00">1</text><text transform="translate(397.60,496.00) scale(0.874,1.060)" font-size="11.00">F</text><text transform="translate(403.84,496.04) scale(1.102,1.048)" font-size="11.00">e</text><text transform="translate(410.87,496.04) scale(1.110,1.054)" font-size="11.00">b</text><text transform="translate(421.70,496.00) scale(1.027,1.060)" font-size="11.00">1</text><text transform="translate(428.60,496.04) scale(1.111,1.068)" font-size="11.00">9</text></g>
<g fill="#2a2a2a" ><text transform="translate(450.57,496.00) scale(1.027,1.060)" font-size="11.00">1</text><text transform="translate(457.75,496.04) scale(1.015,1.065)" font-size="11.00">5</text><text transform="translate(468.35,496.00) scale(0.874,1.060)" font-size="11.00">F</text><text transform="translate(474.60,496.04) scale(1.102,1.048)" font-size="11.00">e</text><text transform="translate(481.63,496.04) scale(1.110,1.054)" font-size="11.00">b</text><text transform="translate(492.46,496.00) scale(1.027,1.060)" font-size="11.00">1</text><text transform="translate(499.36,496.04) scale(1.111,1.068)" font-size="11.00">9</text></g>
<g fill="#2a2a2a" ><text transform="translate(521.37,496.04) scale(1.075,1.068)" font-size="11.00">0</text><text transform="translate(528.61,496.00) scale(1.027,1.060)" font-size="11.00">1</text><text transform="translate(539.12,496.00) scale(1.017,1.060)" font-size="11.00">M</text><text transform="translate(548.87,496.04) scale(0.917,1.048)" font-size="11.00">a</text><text transform="translate(555.56,496.00) scale(1.307,1.041)" font-size="11.00">r</text><text transform="translate(564.05,496.00) scale(1.027,1.060)" font-size="11.00">1</text><text transform="translate(570.95,496.04) scale(1.111,1.068)" font-size="11.00">9</text></g>
<g fill="#2a2a2a" ><text transform="translate(597.22,496.00) scale(1.027,1.060)" font-size="11.00">1</text><text transform="translate(604.15,496.04) scale(1.113,1.068)" font-size="11.00">6</text><text transform="translate(614.88,496.00) scale(1.017,1.060)" font-size="11.00">M</text><text transform="translate(624.62,496.04) scale(0.917,1.048)" font-size="11.00">a</text><text transform="translate(631.31,496.00) scale(1.307,1.041)" font-size="11.00">r</text><text transform="translate(639.80,496.00) scale(1.027,1.060)" font-size="11.00">1</text><text transform="translate(646.70,496.04) scale(1.111,1.068)" font-size="11.00">9</text></g>
<g fill="#2a2a2a" ><text transform="translate(680.25,496.04) scale(1.075,1.068)" font-size="11.00">0</text><text transform="translate(687.49,496.00) scale(1.027,1.060)" font-size="11.00">1</text><text transform="translate(697.89,496.00) scale(1.028,1.060)" font-size="11.00">A</text><text transform="translate(705.73,495.94) scale(1.110,1.031)" font-size="11.00">p</text><text transform="translate(712.68,496.00) scale(1.307,1.041)" font-size="11.00">r</text><text transform="translate(721.17,496.00) scale(1.027,1.060)" font-size="11.00">1</text><text transform="translate(728.07,496.04) scale(1.111,1.068)" font-size="11.00">9</text></g>
<g fill="#2a2a2a" ><text transform="translate(756.10,496.00) scale(1.027,1.060)" font-size="11.00">1</text><text transform="translate(763.03,496.04) scale(1.113,1.068)" font-size="11.00">6</text><text transform="translate(773.64,496.00) scale(1.028,1.060)" font-size="11.00">A</text><text transform="translate(781.48,495.94) scale(1.110,1.031)" font-size="11.00">p</text><text transform="translate(788.43,496.00) scale(1.307,1.041)" font-size="11.00">r</text><text transform="translate(796.92,496.00) scale(1.027,1.060)" font-size="11.00">1</text><text transform="translate(803.82,496.04) scale(1.111,1.068)" font-size="11.00">9</text></g>
<g fill="#2a2a2a" ><text transform="translate(830.14,496.04) scale(1.076,1.068)" font-size="11.00">0</text><text transform="translate(837.38,496.00) scale(1.028,1.060)" font-size="11.00">1</text><text transform="translate(847.90,496.00) scale(1.018,1.060)" font-size="11.00">M</text><text transform="translate(857.65,496.04) scale(0.918,1.048)" font-size="11.00">a</text><text transform="translate(864.59,495.95) scale(1.096,1.026)" font-size="11.00">y</text><text transform="translate(874.87,496.00) scale(1.028,1.060)" font-size="11.00">1</text><text transform="translate(881.78,496.04) scale(1.111,1.068)" font-size="11.00">9</text></g>
<g fill="#000000" ><text transform="translate(294.83,17.84) scale(0.966,1.068)" font-size="24.00">G</text><text transform="translate(313.34,17.84) scale(1.053,1.048)" font-size="24.00">o</text><text transform="translate(328.23,17.75) scale(1.012,1.049)" font-size="24.00">l</text><text transform="translate(334.46,17.84) scale(1.076,1.054)" font-size="24.00">d</text><text transform="translate(357.32,17.75) scale(0.962,1.060)" font-size="24.00">B</text><text transform="translate(373.71,17.84) scale(0.891,1.048)" font-size="24.00">a</text><text transform="translate(388.41,17.84) scale(0.949,1.051)" font-size="24.00">s</text><text transform="translate(400.75,17.75) scale(1.012,1.049)" font-size="24.00">i</text><text transform="translate(407.40,17.84) scale(0.949,1.051)" font-size="24.00">s</text><text transform="translate(427.48,16.16) scale(0.837,0.956)" font-size="24.00">(</text><text transform="translate(436.41,17.75) scale(1.068,1.041)" font-size="24.00">n</text><text transform="translate(451.24,17.84) scale(1.070,1.048)" font-size="24.00">e</text><text transform="translate(466.17,17.84) scale(0.891,1.048)" font-size="24.00">a</text><text transform="translate(480.35,17.75) scale(1.269,1.041)" font-size="24.00">r</text><text transform="translate(497.84,17.84) scale(0.994,1.048)" font-size="24.00">c</text><text transform="translate(510.86,17.84) scale(1.053,1.048)" font-size="24.00">o</text><text transform="translate(525.61,17.75) scale(1.068,1.041)" font-size="24.00">n</text><text transform="translate(540.38,17.55) scale(1.324,1.073)" font-size="24.00">t</text><text transform="translate(549.68,17.75) scale(1.269,1.041)" font-size="24.00">r</text><text transform="translate(559.83,17.84) scale(0.891,1.048)" font-size="24.00">a</text><text transform="translate(574.18,17.84) scale(0.994,1.048)" font-size="24.00">c</text><text transform="translate(587.11,17.55) scale(1.324,1.073)" font-size="24.00">t</text><text transform="translate(598.05,16.16) scale(0.837,0.956)" font-size="24.00">)</text></g>
<g fill="#000000" ><text transform="translate(771.95,48.00) scale(0.865,1.060)" font-size="12.00">F</text><text transform="translate(778.64,48.00) scale(1.293,1.041)" font-size="12.00">r</text><text transform="translate(783.87,48.00) scale(1.031,1.049)" font-size="12.00">i</text><text transform="translate(786.26,47.82) scale(1.471,1.023)" font-size="12.00">,</text><text transform="translate(794.81,48.00) scale(1.006,1.060)" font-size="12.00">M</text><text transform="translate(805.32,48.05) scale(0.907,1.048)" font-size="12.00">a</text><text transform="translate(812.81,47.94) scale(1.083,1.026)" font-size="12.00">y</text><text transform="translate(823.95,48.04) scale(1.021,1.068)" font-size="12.00">3</text><text transform="translate(830.54,47.82) scale(1.471,1.023)" font-size="12.00">,</text><text transform="translate(835.31,48.00) scale(1.025,1.063)" font-size="12.00">2</text><text transform="translate(843.04,48.04) scale(1.063,1.068)" font-size="12.00">0</text><text transform="translate(850.85,48.00) scale(1.016,1.060)" font-size="12.00">1</text><text transform="translate(858.29,48.04) scale(1.098,1.068)" font-size="12.00">9</text></g>
<g fill="#000000" ><text transform="translate(710.68,63.00) scale(0.982,1.060)" font-size="12.00">N</text><text transform="translate(719.51,63.05) scale(1.074,1.048)" font-size="12.00">e</text><text transform="translate(727.00,63.05) scale(0.894,1.048)" font-size="12.00">a</text><text transform="translate(734.12,63.00) scale(1.274,1.041)" font-size="12.00">r</text><text transform="translate(742.90,63.05) scale(0.997,1.048)" font-size="12.00">c</text><text transform="translate(749.43,63.05) scale(1.057,1.048)" font-size="12.00">o</text><text transform="translate(756.83,63.00) scale(1.072,1.041)" font-size="12.00">n</text><text transform="translate(764.24,62.90) scale(1.329,1.073)" font-size="12.00">t</text><text transform="translate(768.91,63.00) scale(1.274,1.041)" font-size="12.00">r</text><text transform="translate(774.01,63.05) scale(0.894,1.048)" font-size="12.00">a</text><text transform="translate(781.21,63.05) scale(0.997,1.048)" font-size="12.00">c</text><text transform="translate(787.69,62.90) scale(1.329,1.073)" font-size="12.00">t</text><text transform="translate(792.51,63.00) scale(1.076,0.979)" font-size="12.00">:</text><text transform="translate(796.39,63.04) scale(0.970,1.068)" font-size="12.00">G</text><text transform="translate(805.68,63.05) scale(1.057,1.048)" font-size="12.00">o</text><text transform="translate(813.15,63.00) scale(1.016,1.049)" font-size="12.00">l</text><text transform="translate(816.28,63.05) scale(1.080,1.054)" font-size="12.00">d</text><text transform="translate(826.80,63.00) scale(0.602,1.060)" font-size="12.00">J</text><text transform="translate(831.23,63.04) scale(1.072,1.067)" font-size="12.00">u</text><text transform="translate(838.84,63.00) scale(1.072,1.041)" font-size="12.00">n</text><text transform="translate(850.36,63.00) scale(1.001,1.060)" font-size="12.00">1</text><text transform="translate(857.69,63.04) scale(1.082,1.068)" font-size="12.00">9</text></g>
</svg>
</body></html>
